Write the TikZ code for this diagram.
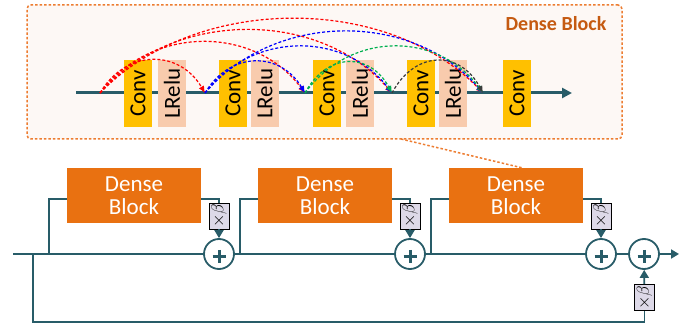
\documentclass[tikz,border=0pt]{standalone}
\usepackage{fontspec}
\setmainfont{Carlito}
\usetikzlibrary{arrows.meta,calc}
\definecolor{tealc}{RGB}{40,92,104}
\definecolor{convc}{RGB}{255,192,0}
\definecolor{reluc}{RGB}{248,203,173}
\definecolor{densec}{RGB}{233,113,17}
\definecolor{titlec}{RGB}{197,90,17}
\definecolor{framec}{RGB}{237,125,49}
\definecolor{framefill}{RGB}{253,248,245}
\definecolor{betafill}{RGB}{221,217,232}
\definecolor{arcgreen}{RGB}{0,176,80}
\definecolor{arcblack}{RGB}{60,60,60}
\tikzset{
  layerbox/.style={minimum width=28pt,minimum height=67pt,inner sep=0pt,font=\fontsize{23}{23}\selectfont},
  convbox/.style={layerbox,fill=convc},
  relubox/.style={layerbox,fill=reluc},
  densebox/.style={fill=densec,text=white,minimum width=134pt,minimum height=55pt,inner sep=0pt,align=center,font=\fontsize{23}{23}\selectfont},
  betabox/.style={draw=black,line width=0.8pt,fill=betafill,minimum width=20pt,minimum height=26pt,inner sep=0pt,font=\fontsize{16}{16}\selectfont},
  sumnode/.style={circle,draw=tealc,line width=1.8pt,fill=white,minimum size=30pt,inner sep=0pt},
  plusst/.style={draw=tealc,line width=3pt},
  tline/.style={draw=tealc,line width=1.8pt},
  tarrow/.style={tline,-{Triangle[length=8pt,width=9pt]}},
  arcst/.style={line width=1.2pt,dash pattern=on 3pt off 2pt,-{Latex[length=7pt,width=6pt]}},
  arcred/.style={arcst,draw=red},
  arcblue/.style={arcst,draw=blue},
  arcgrn/.style={arcst,draw=arcgreen},
  arcblk/.style={arcst,draw=arcblack},
}
\begin{document}
\begin{tikzpicture}[x=1pt,y=-1pt]
\useasboundingbox (0,0) rectangle (699,328);
% ---- upper dense block detail
\node[draw=framec,fill=framefill,line width=1.5pt,dash pattern=on 2.5pt off 2pt,rounded corners=4pt,minimum width=595pt,minimum height=134pt,inner sep=0pt] (frame) at (324.5,72) {};
\node[text=titlec,font=\bfseries\fontsize{20}{20}\selectfont] (title) at (556,24) {Dense Block};
\coordinate (tl0) at (76,93);
\coordinate (tl1) at (572,93);
\draw[draw=tealc,line width=3pt,-{Triangle[length=10pt,width=10pt]}] (tl0) -- (tl1);
\node[convbox] (cv1) at (138,93.5) {\rotatebox{90}{Conv}};
\node[relubox] (lr1) at (172,93.5) {\rotatebox{90}{LRelu}};
\node[convbox] (cv2) at (233,93.5) {\rotatebox{90}{Conv}};
\node[relubox] (lr2) at (264.5,93.5) {\rotatebox{90}{LRelu}};
\node[convbox] (cv3) at (327,93.5) {\rotatebox{90}{Conv}};
\node[relubox] (lr3) at (360,93.5) {\rotatebox{90}{LRelu}};
\node[convbox] (cv4) at (421,93.5) {\rotatebox{90}{Conv}};
\node[relubox] (lr4) at (453,93.5) {\rotatebox{90}{LRelu}};
\node[convbox] (cv5) at (517,93.5) {\rotatebox{90}{Conv}};
\coordinate (p0) at (100,93);
\coordinate (p1) at (205,93);
\coordinate (p2) at (305,93);
\coordinate (p3) at (392,93);
\coordinate (p4) at (483,93);
% red
\draw[arcred] (p0) .. controls +(26,-44) and +(-26,-44) .. (p1);
\draw[arcred] (p0) .. controls +(51,-68) and +(-51,-68) .. (p2);
\draw[arcred] (p0) .. controls +(73,-84) and +(-73,-84) .. (p3);
\draw[arcred] (p0) .. controls +(96,-99) and +(-96,-99) .. (p4);
% blue
\draw[arcblue] (p1) .. controls +(25,-42) and +(-25,-42) .. (p2);
\draw[arcblue] (p1) .. controls +(47,-62) and +(-47,-62) .. (p3);
\draw[arcblue] (p1) .. controls +(70,-82) and +(-70,-82) .. (p4);
% green
\draw[arcgrn] (p2) .. controls +(22,-41) and +(-22,-41) .. (p3);
\draw[arcgrn] (p2) .. controls +(45,-62) and +(-45,-62) .. (p4);
% black
\draw[arcblk] (p3) .. controls +(23,-43) and +(-23,-43) .. (p4);
% ---- lower RRDB
\node[densebox] (d1) at (134,195.5) {Dense\\Block};
\node[densebox] (d2) at (325,195.5) {Dense\\Block};
\node[densebox] (d3) at (516,195.5) {Dense\\Block};
\coordinate (zl) at (401,139);
\draw[draw=framec,line width=1.5pt,dash pattern=on 2.5pt off 2pt] (zl) -- ([xshift=6pt]d3.north);
\node[sumnode] (c1) at (219,254) {};
\node[sumnode] (c2) at (410,254) {};
\node[sumnode] (c3) at (601,254) {};
\node[sumnode] (c4) at (644,254) {};
\foreach \c in {c1,c2,c3,c4}{
  \draw[plusst] ([xshift=-6.5pt,yshift=-2.5pt]\c.center) -- ([xshift=6.5pt,yshift=-2.5pt]\c.center);
  \draw[plusst] ([yshift=4pt]\c.center) -- ([yshift=-9pt]\c.center);
}
\node[betabox] (b1) at (219,216) {\rotatebox{90}{$\times\beta$}};
\node[betabox] (b2) at (410,216) {\rotatebox{90}{$\times\beta$}};
\node[betabox] (b3) at (601,216) {\rotatebox{90}{$\times\beta$}};
\node[betabox] (b4) at (644.5,297.5) {\rotatebox{90}{$\times\beta$}};
\coordinate (in0) at (13,254);
\coordinate (out) at (679,254);
\coordinate (s0) at (33,254);
\coordinate (s1) at (49,254);
\coordinate (s2) at (240,254);
\coordinate (s3) at (431,254);
\coordinate (corner) at (33,322);
\draw[tline] (in0) -- (c1);
\draw[tline] (c1) -- (c2);
\draw[tline] (c2) -- (c3);
\draw[tline] (c3) -- (c4);
\draw[tarrow] (c4) -- (out);
\draw[tline] (s1) |- ([yshift=-3.5pt]d1.west);
\draw[tline] (s2) |- ([yshift=-3.5pt]d2.west);
\draw[tline] (s3) |- ([yshift=-3.5pt]d3.west);
\draw[tline] ([yshift=-3.5pt]d1.east) -| (b1.north);
\draw[tline] ([yshift=-3.5pt]d2.east) -| (b2.north);
\draw[tline] ([yshift=-3.5pt]d3.east) -| (b3.north);
\draw[tarrow] (b1) -- (c1);
\draw[tarrow] (b2) -- (c2);
\draw[tarrow] (b3) -- (c3);
\draw[tline] (s0) -- (corner) -| (b4.south);
\draw[tarrow] (b4) -- (c4);
\end{tikzpicture}
\end{document}
